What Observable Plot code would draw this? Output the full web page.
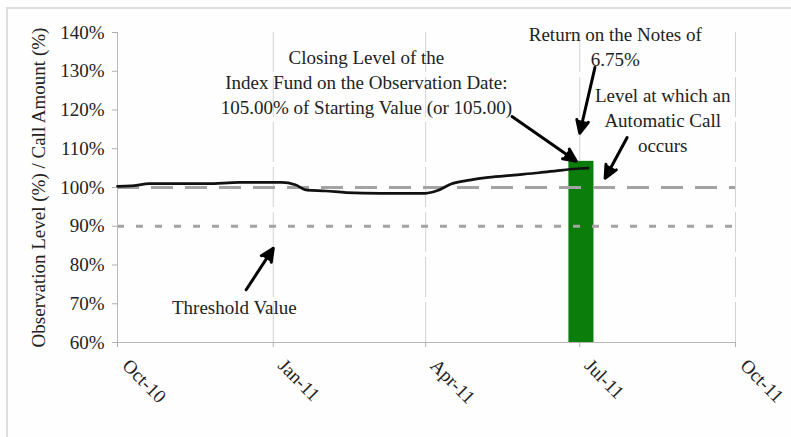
<!DOCTYPE html>
<html>
<head>
<meta charset="utf-8">
<script src="https://cdn.jsdelivr.net/npm/d3@7"></script>
<script src="https://cdn.jsdelivr.net/npm/@observablehq/plot@0.6"></script>
<style>
  html, body { margin: 0; padding: 0; background: #ffffff; }
  #wrap { position: relative; width: 791px; height: 437px; overflow: hidden; background: #fefefe; }
  #frameTop { position: absolute; left: 6px; top: 7px; width: 785px; height: 0; border-top: 2px solid #dedede; }
  #frameLeft { position: absolute; left: 6px; top: 7px; width: 0; height: 430px; border-left: 2px solid #dedede; }
  #chart { position: absolute; left: 0; top: 0; }
</style>
</head>
<body>
<div id="wrap">
  <div id="frameTop"></div>
  <div id="frameLeft"></div>
  <div id="chart"></div>
</div>
<script>
// ---- data ----
const lineDates = ["2010-10-01","2010-10-09","2010-10-20","2010-11-23","2010-12-12","2011-01-06","2011-01-14","2011-01-21","2011-02-01","2011-02-13","2011-03-05","2011-04-01","2011-04-08","2011-04-16","2011-04-27","2011-05-08","2011-05-23","2011-06-07","2011-06-21","2011-07-01","2011-07-06"];
const lineValues = [100.3,100.4,101.0,101.0,101.3,101.3,100.7,99.3,99.1,98.7,98.5,98.5,99.2,100.9,101.9,102.6,103.2,103.8,104.5,104.9,105.0];

const xTickDates = ["2010-10-01","2011-01-01","2011-04-01","2011-07-01","2011-10-01"];
const yTicks = [60,70,80,90,100,110,120,130,140];

const callLevel = 100;   // Automatic call level
const threshold = 90;    // Threshold value

const barDates = ["2011-07-02"];
const barValues = [106.75];

const noteLabels = [
  "Closing Level of the\nIndex Fund on the Observation Date:\n105.00% of Starting Value (or 105.00)",
  "Return on the Notes of\n6.75%",
  "Level at which an\nAutomatic Call\noccurs",
  "Threshold Value"
];
const noteDates = ["2011-02-25","2011-07-22","2011-08-19","2010-12-09"];
const noteValues = [136.5, 142.3, 126.7, 72.0];

const arrowStartDates = ["2011-05-22","2011-07-10","2011-07-29","2010-12-16"];
const arrowStartValues = [118.3, 131.0, 112.9, 73.6];
const arrowEndDates = ["2011-06-29","2011-07-01","2011-07-16","2011-01-01"];
const arrowEndValues = [106.8, 114.0, 102.4, 84.3];

const yLabel = "Observation Level (%) / Call Amount (%)";

// ---- build tables ----
const D = s => new Date(s + "T00:00:00Z");
const series = lineDates.map((d, i) => ({date: D(d), value: lineValues[i]}));
const bars = barDates.map((d, i) => ({date: D(d), value: barValues[i]}));
const notes = noteLabels.map((t, i) => ({label: t, date: D(noteDates[i]), value: noteValues[i]}));
const arrows = arrowStartDates.map((d, i) => ({
  x1: D(d), y1: arrowStartValues[i], x2: D(arrowEndDates[i]), y2: arrowEndValues[i]
}));
const xTicks = xTickDates.map(D);
const DAY = 86400000;
const halfBar = 7.4 * DAY;

const font = "'Liberation Serif', 'Times New Roman', Times, serif";

const chart = Plot.plot({
  width: 791,
  height: 437,
  marginLeft: 117,
  marginRight: 56,
  marginTop: 32,
  marginBottom: 95,
  style: {fontFamily: font, fontSize: "19px", color: "#222", background: "transparent", overflow: "visible"},
  x: {type: "utc", domain: [xTicks[0], xTicks[xTicks.length - 1]]},
  y: {domain: [yTicks[0], yTicks[yTicks.length - 1]]},
  marks: [
    // vertical gridlines
    Plot.ruleX(xTicks.slice(1), {stroke: "#d2d2d2", strokeWidth: 1, strokeDasharray: "40,5"}),
    // green return bar
    Plot.rectY(bars, {
      x1: d => new Date(+d.date - halfBar),
      x2: d => new Date(+d.date + halfBar),
      y1: yTicks[0], y2: "value", fill: "#0a7d0a"
    }),
    // reference levels
    Plot.ruleY([callLevel], {stroke: "#a3a3a3", strokeWidth: 3, strokeDasharray: "22,12"}),
    Plot.ruleY([threshold], {stroke: "#a3a3a3", strokeWidth: 3, strokeDasharray: "7,12"}),
    // axis lines
    Plot.ruleX([xTicks[0]], {stroke: "#b8b8b8", strokeWidth: 1}),
    Plot.ruleY([yTicks[0]], {stroke: "#b8b8b8", strokeWidth: 1}),
    // index level line
    Plot.line(series, {x: "date", y: "value", stroke: "#111", strokeWidth: 2.7, curve: "monotone-x"}),
    // axes
    Plot.axisY({ticks: yTicks, tickSize: 5, tickFormat: () => "", stroke: "#b0b0b0", label: null}),
    Plot.axisY({ticks: yTicks, tickSize: 0, tickPadding: 13, tickFormat: d => d + "%", fill: "#222", label: null}),
    Plot.axisX({ticks: xTicks, tickSize: 5, tickFormat: () => "", stroke: "#b0b0b0", label: null}),
    Plot.axisX({ticks: xTicks, tickSize: 0, tickPadding: 20, tickRotate: 45, tickFormat: "%b-%y", fill: "#222", dx: 8, label: null}),
    // y axis title
    Plot.text([yLabel], {frameAnchor: "left", rotate: -90, dx: -79, fontSize: 19, fill: "#222", textAnchor: "middle"}),
    // annotations
    Plot.text(notes, {x: "date", y: "value", text: "label", lineAnchor: "top", lineHeight: 1.316, textAnchor: "middle", fontSize: 19, fill: "#222"}),
    Plot.arrow(arrows, {x1: "x1", y1: "y1", x2: "x2", y2: "y2", stroke: "#000", fill: "#000", strokeWidth: 3, strokeLinejoin: "miter", headLength: 7, headAngle: 50})
  ]
});
document.getElementById("chart").appendChild(chart);
</script>
</body>
</html>
